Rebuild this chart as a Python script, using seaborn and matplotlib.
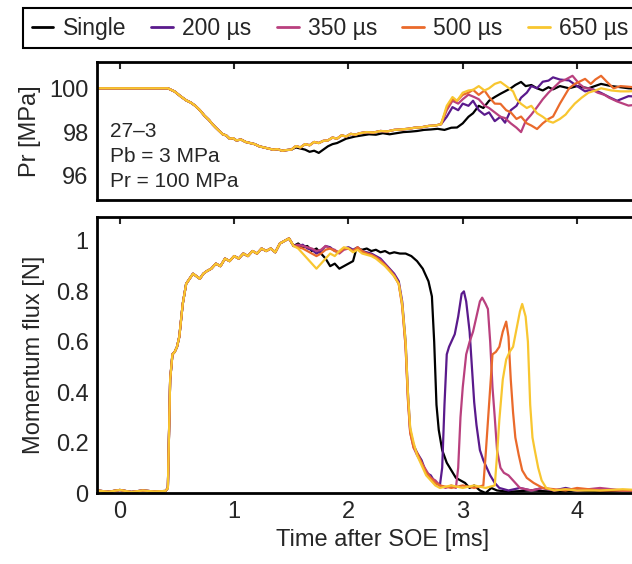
import numpy as np
import pandas as pd
import matplotlib
matplotlib.use("Agg")
import matplotlib.pyplot as plt
import seaborn as sns

# ---------------- data ----------------
series_names = ["Single", "200 µs", "350 µs", "500 µs", "650 µs"]
series_colors = ["#000000", "#5a1a8c", "#b9407e", "#ea6a2b", "#f8c630"]

# Momentum flux: shared rise (all series overlap)
t_rise = [-0.2, -0.1, 0.0, 0.1, 0.2, 0.3, 0.4, 0.42, 0.44, 0.46, 0.48, 0.5, 0.52, 0.55,
          0.58, 0.61, 0.64, 0.67, 0.70, 0.73, 0.76, 0.80, 0.84, 0.88, 0.92, 0.96, 1.00,
          1.04, 1.08, 1.12, 1.16, 1.20, 1.24, 1.28, 1.32, 1.36, 1.40, 1.44, 1.48, 1.52]
flux_rise = [0.01, 0.005, 0.012, 0.004, 0.01, 0.006, 0.008, 0.02, 0.45, 0.55, 0.56, 0.58, 0.62, 0.75,
             0.83, 0.85, 0.87, 0.86, 0.85, 0.87, 0.88, 0.89, 0.91, 0.90, 0.93, 0.92, 0.94,
             0.93, 0.95, 0.94, 0.96, 0.95, 0.97, 0.96, 0.97, 0.955, 0.99, 1.0, 1.01, 0.98]

t_single = [1.56, 1.60, 1.64, 1.68, 1.72, 1.76, 1.80, 1.84, 1.88, 1.92, 1.96, 2.00, 2.04, 2.07,
            2.12, 2.16, 2.20, 2.24, 2.28, 2.32, 2.36, 2.40, 2.45, 2.50, 2.55, 2.60, 2.65, 2.70,
            2.73, 2.75, 2.77, 2.79, 2.82, 2.86, 2.90, 2.94, 2.98, 3.02, 3.06, 3.10, 3.15, 3.20,
            3.25, 3.30, 3.40, 3.60, 3.80, 4.00, 4.20, 4.40, 4.60]
flux_single = [0.99, 0.975, 0.98, 0.96, 0.97, 0.95, 0.93, 0.90, 0.91, 0.89, 0.90, 0.91, 0.92, 0.97,
               0.965, 0.97, 0.96, 0.965, 0.955, 0.96, 0.95, 0.955, 0.95, 0.95, 0.94, 0.92, 0.89, 0.84,
               0.78, 0.60, 0.35, 0.25, 0.17, 0.12, 0.09, 0.06, 0.05, 0.04, 0.02, 0.03, 0.01, 0.0,
               0.02, 0.01, 0.005, 0.01, 0.005, 0.01, 0.005, 0.01, 0.008]

t_200 = [1.56, 1.60, 1.64, 1.68, 1.72, 1.76, 1.80, 1.84, 1.88, 1.92, 1.96, 2.00, 2.04, 2.08,
         2.12, 2.16, 2.20, 2.24, 2.28, 2.32, 2.36, 2.40, 2.44, 2.47, 2.50, 2.52, 2.54, 2.57,
         2.60, 2.64, 2.68, 2.72, 2.76, 2.80, 2.82, 2.84, 2.86, 2.88, 2.90, 2.93, 2.96, 2.99,
         3.01, 3.03, 3.06, 3.08, 3.10, 3.12, 3.15, 3.18, 3.21, 3.24, 3.28, 3.32, 3.40, 3.50,
         3.60, 3.70, 3.80, 3.90, 4.00, 4.20, 4.40, 4.60]
flux_200 = [0.98, 0.985, 0.97, 0.965, 0.95, 0.96, 0.98, 0.975, 0.96, 0.955, 0.97, 0.975, 0.965, 0.975,
            0.96, 0.955, 0.95, 0.94, 0.93, 0.91, 0.89, 0.87, 0.84, 0.76, 0.60, 0.40, 0.25, 0.19,
            0.16, 0.13, 0.08, 0.07, 0.04, 0.03, 0.10, 0.35, 0.55, 0.58, 0.60, 0.63, 0.70, 0.79,
            0.80, 0.76, 0.64, 0.50, 0.36, 0.27, 0.17, 0.13, 0.10, 0.07, 0.04, 0.02, 0.01, 0.02,
            0.01, 0.02, 0.01, 0.02, 0.01, 0.015, 0.01, 0.01]

t_350 = [1.56, 1.60, 1.64, 1.68, 1.72, 1.76, 1.80, 1.84, 1.88, 1.92, 1.96, 2.00, 2.04, 2.08,
         2.12, 2.16, 2.20, 2.24, 2.28, 2.32, 2.36, 2.40, 2.44, 2.47, 2.50, 2.52, 2.54, 2.57,
         2.60, 2.64, 2.68, 2.72, 2.76, 2.80, 2.85, 2.90, 2.94, 2.96, 2.98, 3.00, 3.03, 3.06,
         3.09, 3.12, 3.15, 3.17, 3.20, 3.22, 3.24, 3.26, 3.28, 3.30, 3.33, 3.36, 3.40, 3.44,
         3.50, 3.60, 3.70, 3.80, 3.90, 4.00, 4.20, 4.40, 4.60]
flux_350 = [0.985, 0.98, 0.975, 0.97, 0.96, 0.965, 0.98, 0.97, 0.965, 0.95, 0.965, 0.97, 0.96, 0.97,
            0.955, 0.95, 0.945, 0.935, 0.925, 0.905, 0.885, 0.865, 0.83, 0.75, 0.58, 0.38, 0.24, 0.18,
            0.15, 0.12, 0.09, 0.06, 0.05, 0.03, 0.02, 0.03, 0.02, 0.10, 0.30, 0.42, 0.55, 0.60,
            0.64, 0.70, 0.76, 0.775, 0.75, 0.73, 0.60, 0.42, 0.30, 0.17, 0.10, 0.08, 0.07, 0.05,
            0.02, 0.01, 0.02, 0.01, 0.015, 0.01, 0.02, 0.01, 0.01]

t_500 = [1.56, 1.60, 1.64, 1.68, 1.72, 1.76, 1.80, 1.84, 1.88, 1.92, 1.96, 2.00, 2.04, 2.08,
         2.12, 2.16, 2.20, 2.24, 2.28, 2.32, 2.36, 2.40, 2.44, 2.47, 2.50, 2.52, 2.54, 2.57,
         2.60, 2.64, 2.68, 2.72, 2.76, 2.80, 2.90, 3.00, 3.10, 3.18, 3.20, 3.23, 3.26, 3.29,
         3.32, 3.35, 3.38, 3.40, 3.42, 3.44, 3.46, 3.49, 3.52, 3.56, 3.62, 3.70, 3.80, 3.90,
         4.00, 4.20, 4.40, 4.60]
flux_500 = [0.975, 0.97, 0.96, 0.95, 0.94, 0.95, 0.965, 0.97, 0.96, 0.955, 0.97, 0.97, 0.96, 0.975,
            0.96, 0.95, 0.945, 0.935, 0.92, 0.905, 0.885, 0.86, 0.83, 0.74, 0.58, 0.37, 0.24, 0.18,
            0.16, 0.12, 0.08, 0.06, 0.04, 0.03, 0.02, 0.03, 0.02, 0.03, 0.15, 0.35, 0.55, 0.56,
            0.58, 0.64, 0.68, 0.62, 0.45, 0.32, 0.22, 0.15, 0.09, 0.06, 0.04, 0.02, 0.015, 0.01,
            0.02, 0.01, 0.01, 0.01]

t_650 = [1.56, 1.60, 1.64, 1.68, 1.72, 1.76, 1.80, 1.84, 1.88, 1.92, 1.96, 2.00, 2.04, 2.08,
         2.12, 2.16, 2.20, 2.24, 2.28, 2.32, 2.36, 2.40, 2.44, 2.47, 2.50, 2.52, 2.54, 2.57,
         2.60, 2.64, 2.68, 2.72, 2.76, 2.80, 2.90, 3.00, 3.10, 3.20, 3.28, 3.30, 3.32, 3.35,
         3.38, 3.41, 3.44, 3.47, 3.50, 3.52, 3.55, 3.57, 3.59, 3.61, 3.63, 3.66, 3.69, 3.73,
         3.80, 3.90, 4.00, 4.20, 4.40, 4.60]
flux_650 = [0.97, 0.95, 0.93, 0.91, 0.89, 0.91, 0.93, 0.95, 0.94, 0.96, 0.975, 0.97, 0.955, 0.965,
            0.95, 0.945, 0.94, 0.93, 0.915, 0.90, 0.88, 0.86, 0.83, 0.75, 0.60, 0.40, 0.26, 0.20,
            0.15, 0.11, 0.07, 0.05, 0.03, 0.02, 0.03, 0.02, 0.03, 0.02, 0.03, 0.15, 0.29, 0.45,
            0.53, 0.56, 0.58, 0.65, 0.72, 0.75, 0.70, 0.60, 0.35, 0.22, 0.17, 0.10, 0.05, 0.02,
            0.01, 0.015, 0.01, 0.01, 0.015, 0.01]

# Pressure Pr: shared part (all series overlap)
tp_common = [-0.2, 0.0, 0.2, 0.42, 0.48, 0.53, 0.58, 0.62, 0.66, 0.70, 0.74, 0.78, 0.81, 0.84,
             0.87, 0.90, 0.93, 0.96, 0.99, 1.02, 1.06, 1.10, 1.14, 1.18, 1.22, 1.26, 1.30, 1.34,
             1.38, 1.42, 1.46, 1.50]
pr_common = [100.0, 100.0, 100.0, 100.0, 99.85, 99.64, 99.45, 99.35, 99.2, 99.0, 98.75, 98.55, 98.36, 98.2,
             98.05, 97.9, 97.85, 97.7, 97.72, 97.62, 97.66, 97.55, 97.5, 97.45, 97.35, 97.3, 97.25, 97.2,
             97.22, 97.15, 97.18, 97.2]

tp_single = [1.54, 1.58, 1.62, 1.66, 1.70, 1.74, 1.78, 1.82, 1.86, 1.90, 1.94, 1.98, 2.02, 2.06,
             2.12, 2.18, 2.24, 2.30, 2.36, 2.42, 2.48, 2.54, 2.60, 2.66, 2.72, 2.78, 2.84, 2.90,
             2.95, 3.00, 3.05, 3.09, 3.14, 3.18, 3.23, 3.28, 3.33, 3.37, 3.42, 3.46, 3.51, 3.55,
             3.60, 3.65, 3.70, 3.75, 3.79, 3.85, 3.93, 4.00, 4.10, 4.21, 4.30, 4.35, 4.45, 4.60]
pr_single = [97.3, 97.25, 97.2, 97.1, 97.15, 97.05, 97.2, 97.35, 97.45, 97.5, 97.6, 97.7, 97.75, 97.8,
             97.85, 97.9, 97.88, 97.95, 97.9, 97.95, 98.0, 98.02, 98.05, 98.1, 98.12, 98.15, 98.1, 98.2,
             98.21, 98.4, 98.7, 98.86, 99.2, 99.1, 99.43, 99.6, 99.75, 99.86, 100.0, 100.15, 100.29, 100.1,
             100.15, 100.0, 99.9, 100.05, 99.95, 100.1, 100.0, 100.1, 100.0, 100.2, 100.1, 100.07, 100.0, 99.95]

tp_colored = [1.54, 1.58, 1.62, 1.66, 1.70, 1.74, 1.78, 1.82, 1.86, 1.90, 1.94, 1.98, 2.02, 2.06,
              2.10, 2.16, 2.22, 2.28, 2.34, 2.40, 2.46, 2.52, 2.58, 2.64, 2.70, 2.76, 2.81]
pr_colored = [97.36, 97.3, 97.45, 97.4, 97.55, 97.5, 97.6, 97.62, 97.75, 97.7, 97.85, 97.8, 97.92, 97.88,
              97.95, 98.0, 97.98, 98.05, 98.03, 98.1, 98.12, 98.15, 98.2, 98.22, 98.28, 98.3, 98.36]

tp_200 = [2.86, 2.91, 2.96, 3.00, 3.05, 3.09, 3.14, 3.19, 3.23, 3.28, 3.33, 3.37, 3.42, 3.47,
          3.51, 3.56, 3.60, 3.65, 3.70, 3.75, 3.79, 3.85, 3.93, 4.00, 4.07, 4.14, 4.21, 4.28,
          4.35, 4.45, 4.60]
pr_200 = [98.7, 99.14, 99.0, 99.3, 99.2, 99.43, 99.0, 98.79, 98.9, 98.5, 98.7, 98.43, 99.0, 99.2,
          99.57, 99.8, 100.1, 100.0, 100.3, 100.35, 100.5, 100.4, 100.36, 100.1, 99.86, 99.95, 99.79, 99.6,
          99.43, 99.64, 99.6]

tp_350 = [2.86, 2.91, 2.96, 3.00, 3.05, 3.10, 3.14, 3.19, 3.23, 3.28, 3.33, 3.37, 3.42, 3.47,
          3.51, 3.55, 3.60, 3.65, 3.70, 3.75, 3.79, 3.85, 3.90, 3.96, 4.02, 4.07, 4.11, 4.18,
          4.24, 4.28, 4.35, 4.45, 4.60]
pr_350 = [99.0, 99.43, 99.3, 99.5, 99.71, 99.6, 99.5, 99.21, 99.1, 98.9, 98.7, 98.64, 98.4, 98.2,
          98.0, 98.5, 98.8, 99.14, 99.5, 99.8, 100.0, 100.3, 100.4, 100.57, 100.2, 100.0, 100.0, 99.8,
          99.7, 99.57, 99.4, 99.21, 99.3]

tp_500 = [2.86, 2.91, 2.95, 3.00, 3.05, 3.09, 3.14, 3.19, 3.23, 3.28, 3.33, 3.38, 3.42, 3.47,
          3.51, 3.56, 3.60, 3.65, 3.70, 3.75, 3.79, 3.85, 3.93, 3.98, 4.02, 4.07, 4.12, 4.16,
          4.21, 4.26, 4.32, 4.38, 4.45, 4.60]
pr_500 = [99.1, 99.5, 99.43, 99.7, 99.8, 99.93, 99.7, 99.9, 99.6, 99.3, 99.29, 99.0, 98.9, 98.6,
          98.71, 98.4, 98.3, 98.14, 98.4, 98.6, 98.71, 99.3, 100.0, 100.2, 100.3, 100.43, 100.2, 100.4,
          100.57, 100.3, 100.0, 100.1, 100.07, 100.0]

tp_650 = [2.86, 2.91, 2.95, 3.00, 3.05, 3.09, 3.14, 3.19, 3.23, 3.28, 3.33, 3.38, 3.44, 3.47,
          3.51, 3.56, 3.60, 3.65, 3.70, 3.75, 3.79, 3.85, 3.90, 3.93, 3.98, 4.04, 4.10, 4.16,
          4.21, 4.30, 4.38, 4.45, 4.60]
pr_650 = [99.2, 99.6, 99.43, 99.8, 99.9, 99.93, 100.1, 99.9, 100.0, 100.2, 100.29, 100.1, 99.86, 99.5,
          99.29, 99.1, 99.2, 98.86, 98.7, 98.5, 98.43, 98.6, 98.8, 99.0, 99.3, 99.57, 99.8, 99.9,
          100.0, 99.9, 99.86, 99.86, 99.9]

annotation_lines = ["27–3", "Pb = 3 MPa", "Pr = 100 MPa"]
flux_ticks = [0, 0.2, 0.4, 0.6, 0.8, 1]
flux_ticklabels = ["0", "0.2", "0.4", "0.6", "0.8", "1"]
pr_ticks = [96, 98, 100]
time_ticks = [0, 1, 2, 3, 4]

# ---------------- build long tables ----------------
flux_tails = {"Single": (t_single, flux_single), "200 µs": (t_200, flux_200),
              "350 µs": (t_350, flux_350), "500 µs": (t_500, flux_500),
              "650 µs": (t_650, flux_650)}
pr_tails = {"Single": (tp_single, pr_single), "200 µs": (tp_200, pr_200),
            "350 µs": (tp_350, pr_350), "500 µs": (tp_500, pr_500),
            "650 µs": (tp_650, pr_650)}

rows_f, rows_p = [], []
for name in series_names:
    tt, vv = flux_tails[name]
    for t, v in zip(t_rise + tt, flux_rise + vv):
        rows_f.append((name, t, v))
    tt, vv = pr_tails[name]
    if name == "Single":
        ts, ps = tp_common + tt, pr_common + vv
    else:
        ts, ps = tp_common + tp_colored + tt, pr_common + pr_colored + vv
    for t, v in zip(ts, ps):
        rows_p.append((name, t, v))
df_flux = pd.DataFrame(rows_f, columns=["series", "time", "flux"])
df_pr = pd.DataFrame(rows_p, columns=["series", "time", "pr"])

# ---------------- plot ----------------
sns.set_theme(style="white")
plt.rcParams["font.family"] = ["Liberation Sans", "DejaVu Sans"]
plt.rcParams["axes.linewidth"] = 2.0

W, H = 632, 564
fig = plt.figure(figsize=(W / 100, H / 100), dpi=100)
left = 97 / W
width = 5.0 * 114.3 / W
ax_top = fig.add_axes([left, 1 - 200 / H, width, (200 - 62) / H])
ax_bot = fig.add_axes([left, 1 - 493 / H, width, (493 - 217) / H])

pal = dict(zip(series_names, series_colors))
sns.lineplot(data=df_pr, x="time", y="pr", hue="series", hue_order=series_names,
             palette=pal, estimator=None, sort=False, linewidth=1.6, legend=False, ax=ax_top)
sns.lineplot(data=df_flux, x="time", y="flux", hue="series", hue_order=series_names,
             palette=pal, estimator=None, sort=False, linewidth=1.6, legend=False, ax=ax_bot)

for ax in (ax_top, ax_bot):
    ax.set_xlim(-0.2, 4.8)
    ax.set_xticks(time_ticks)
    ax.tick_params(direction="in", length=5, width=1.5, top=True, right=True,
                   labelsize=17, pad=6)
    for s in ax.spines.values():
        s.set_linewidth(2.0)
        s.set_color("black")

ax_top.set_ylim(94.9, 101.2)
ax_top.set_yticks(pr_ticks)
ax_top.set_xticklabels([])
ax_top.set_xlabel("")
ax_top.set_ylabel("Pr [MPa]", fontsize=17, labelpad=6)

ax_bot.set_ylim(0, 1.095)
ax_bot.set_yticks(flux_ticks)
ax_bot.set_yticklabels(flux_ticklabels)
ax_bot.set_xlabel("Time after SOE [ms]", fontsize=17, labelpad=4)
ax_bot.set_ylabel("Momentum flux [N]", fontsize=17, labelpad=8)

for i, line in enumerate(annotation_lines):
    ax_top.text(0.022, 0.493 - i * 0.18, line, transform=ax_top.transAxes,
                fontsize=15, va="center", ha="left")

handles = [plt.Line2D([], [], color=c, linewidth=2) for c in series_colors]
leg = fig.legend(handles, series_names, loc="upper left",
                 bbox_to_anchor=(23 / W, 1 - 8 / H), bbox_transform=fig.transFigure,
                 ncol=5, fontsize=16.5, frameon=True, fancybox=False, framealpha=1,
                 edgecolor="black", borderaxespad=0, handlelength=0.95,
                 handletextpad=0.4, columnspacing=1.1, borderpad=0.38)
leg.get_frame().set_linewidth(1.5)

fig.savefig("out.png", dpi=100)
